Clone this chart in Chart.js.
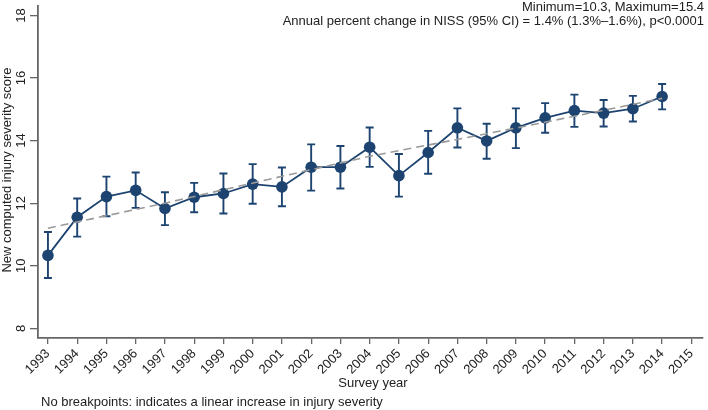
<!DOCTYPE html>
<html>
<head>
<meta charset="utf-8">
<script src="https://cdn.jsdelivr.net/npm/chart.js@4"></script>
<style>
  html, body { margin: 0; padding: 0; background: #fff; }
  #wrap { width: 708px; height: 410px; }
</style>
</head>
<body>
<div id="wrap"><canvas id="niss"></canvas></div>
<script>
// values
const years = [1993, 1994, 1995, 1996, 1997, 1998, 1999, 2000, 2001, 2002, 2003,
               2004, 2005, 2006, 2007, 2008, 2009, 2010, 2011, 2012, 2013, 2014];
const meanNiss = [10.33, 11.55, 12.21, 12.41, 11.83, 12.19, 12.31, 12.61, 12.52, 13.15, 13.15,
                  13.79, 12.88, 13.62, 14.41, 13.99, 14.41, 14.73, 14.96, 14.88, 15.02, 15.41];
const ciLow = [9.61, 10.93, 11.58, 11.85, 11.30, 11.71, 11.67, 11.98, 11.90, 12.40, 12.47,
               13.16, 12.21, 12.94, 13.78, 13.42, 13.76, 14.25, 14.44, 14.45, 14.61, 15.00];
const ciHigh = [11.08, 12.15, 12.85, 12.98, 12.35, 12.65, 12.95, 13.25, 13.14, 13.88, 13.83,
                14.42, 13.57, 14.31, 15.03, 14.54, 15.03, 15.20, 15.47, 15.30, 15.43, 15.81];
const trendYears = [1993, 1997, 2004, 2009, 2014];
const trendValues = [11.2, 12.0, 13.5, 14.4, 15.35];
const xTickYears = [1993, 1994, 1995, 1996, 1997, 1998, 1999, 2000, 2001, 2002, 2003, 2004,
                    2005, 2006, 2007, 2008, 2009, 2010, 2011, 2012, 2013, 2014, 2015];
const yTicks = [8, 10, 12, 14, 16, 18];

const navy = '#1d4470';
const axisGrey = '#666';
const font = '"Liberation Sans", Arial, sans-serif';

const errorBars = {
  id: 'errorBars',
  beforeDatasetsDraw(chart) {
    const c = chart.ctx, xs = chart.scales.x, ys = chart.scales.y;
    c.save();
    c.strokeStyle = navy;
    c.lineWidth = 1.9;
    years.forEach((yr, i) => {
      const px = xs.getPixelForValue(yr);
      const lo = ys.getPixelForValue(ciLow[i]);
      const hi = ys.getPixelForValue(ciHigh[i]);
      c.beginPath();
      c.moveTo(px, lo); c.lineTo(px, hi);
      c.moveTo(px - 4, lo); c.lineTo(px + 4, lo);
      c.moveTo(px - 4, hi); c.lineTo(px + 4, hi);
      c.stroke();
    });
    c.restore();
  }
};

const texts = {
  id: 'texts',
  afterDraw(chart) {
    const c = chart.ctx, ys = chart.scales.y;
    c.save();
    c.fillStyle = '#222';
    c.font = '13px ' + font;
    c.textBaseline = 'middle';
    // y tick labels, rotated like the original
    yTicks.forEach(v => {
      c.save();
      c.translate(21, ys.getPixelForValue(v));
      c.rotate(-Math.PI / 2);
      c.textAlign = 'center';
      c.fillText(String(v), 0, 0);
      c.restore();
    });
    // y axis title
    c.save();
    c.translate(7, 170);
    c.rotate(-Math.PI / 2);
    c.textAlign = 'center';
    c.fillText('New computed injury severity score', 0, 0);
    c.restore();
    // x axis title and footnote
    c.textAlign = 'center';
    c.fillText('Survey year', 373, 383);
    c.textAlign = 'left';
    c.fillText('No breakpoints: indicates a linear increase in injury severity', 41, 402);
    // top right notes
    c.textAlign = 'right';
    c.fillText('Minimum=10.3, Maximum=15.4', 704, 7);
    c.fillText('Annual percent change in NISS (95% CI) = 1.4% (1.3%\u20131.6%), p<0.0001', 704, 21);
    c.restore();
  }
};

new Chart(document.getElementById('niss'), {
  type: 'line',
  data: {
    datasets: [{
      label: 'Trend',
      data: trendYears.map((y, i) => ({ x: y, y: trendValues[i] })),
      borderColor: '#9a9a9a',
      borderWidth: 1.6,
      borderDash: [8, 5],
      pointRadius: 0,
      tension: 0,
      order: 0
    }, {
      label: 'NISS',
      data: years.map((y, i) => ({ x: y, y: meanNiss[i] })),
      borderColor: navy,
      borderWidth: 1.8,
      backgroundColor: navy,
      pointRadius: 5.8,
      pointBorderWidth: 0,
      order: 1
    }]
  },
  options: {
    responsive: true,
    maintainAspectRatio: false,
    animation: false,
    layout: { padding: 0 },
    plugins: { legend: { display: false }, tooltip: { enabled: false } },
    scales: {
      x: {
        type: 'linear',
        min: 1992.66,
        max: 2015.37,
        afterBuildTicks: s => { s.ticks = xTickYears.map(v => ({ value: v })); },
        afterFit: s => { s.height = 72; },
        grid: { drawOnChartArea: false, drawTicks: true, tickLength: 6, color: axisGrey, lineWidth: 1.3 },
        border: { display: true, color: axisGrey, width: 1.8 },
        ticks: {
          minRotation: 45, maxRotation: 45, padding: 2,
          color: '#222', font: { family: font, size: 13 },
          callback: v => String(v)
        }
      },
      y: {
        min: 7.69,
        max: 18.31,
        afterBuildTicks: s => { s.ticks = yTicks.map(v => ({ value: v })); },
        afterFit: s => { s.width = 38; },
        grid: { drawOnChartArea: false, drawTicks: true, tickLength: 8, color: axisGrey, lineWidth: 1.3 },
        border: { display: true, color: axisGrey, width: 1.8 },
        ticks: { display: false }
      }
    }
  },
  plugins: [errorBars, texts]
});
</script>
</body>
</html>
